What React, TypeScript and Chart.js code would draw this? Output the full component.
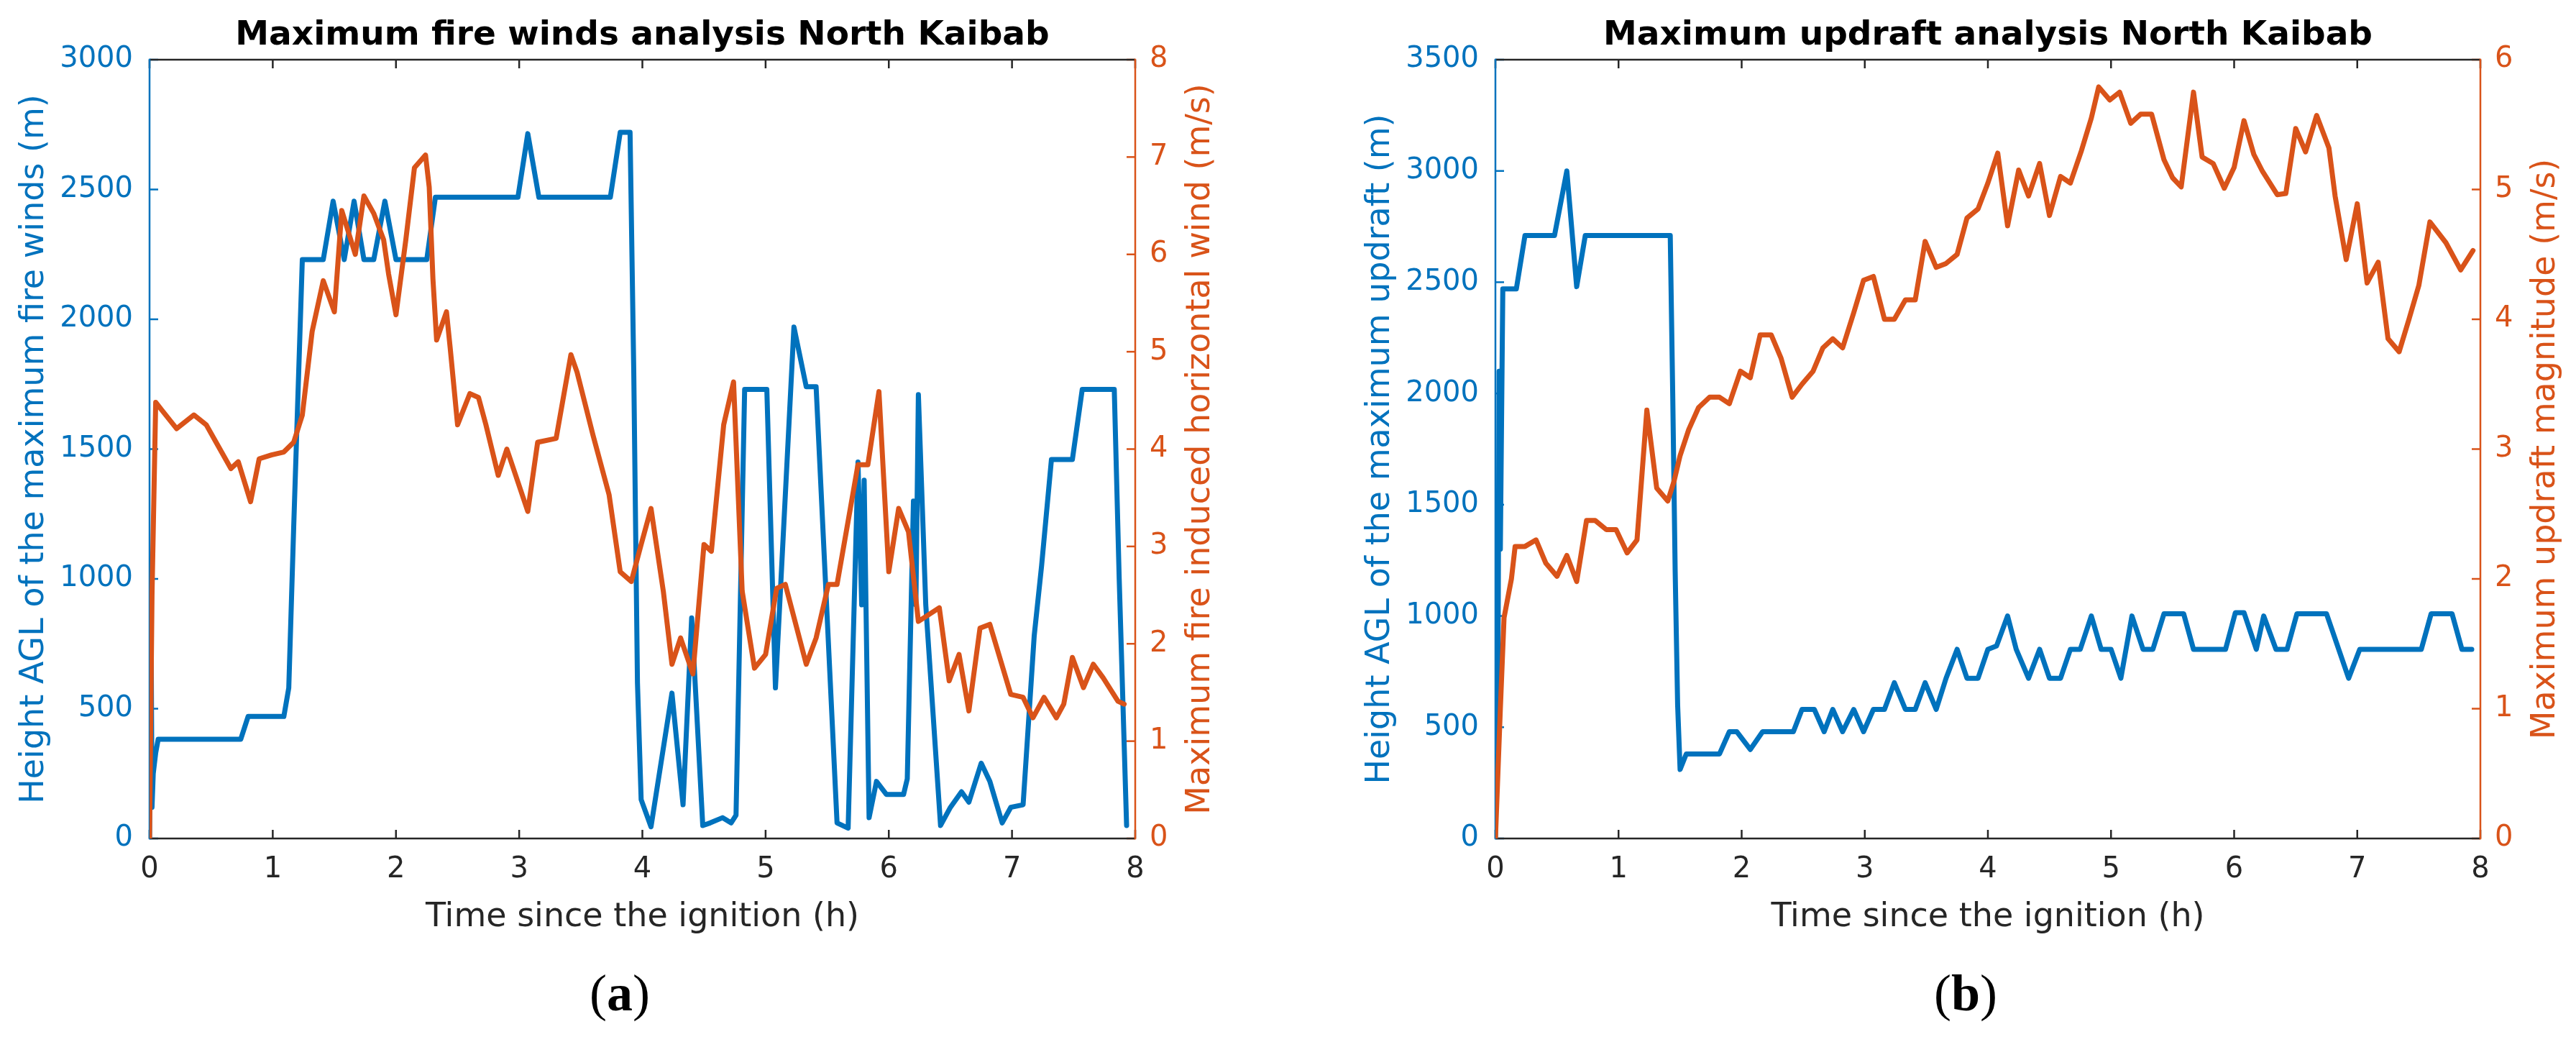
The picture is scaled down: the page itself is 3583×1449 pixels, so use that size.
import { useEffect, useRef } from 'react'
import { Chart, registerables } from 'chart.js'

Chart.register(...registerables)

const BLUE = '#0072BD'
const ORANGE = '#D95319'
const INK = '#262626'
const FONT = "'DejaVu Sans', sans-serif"

// tick values shared by both panels
const HOUR_TICKS = [0, 1, 2, 3, 4, 5, 6, 7, 8]
const WIND_HEIGHT_TICKS = [0, 500, 1000, 1500, 2000, 2500, 3000]
const WIND_SPEED_TICKS = [0, 1, 2, 3, 4, 5, 6, 7, 8]
const UPDRAFT_HEIGHT_TICKS = [0, 500, 1000, 1500, 2000, 2500, 3000, 3500]
const UPDRAFT_SPEED_TICKS = [0, 1, 2, 3, 4, 5, 6]

// (a) height AGL of the maximum fire winds (m)
const windHeightT = [0, 0.01, 0.02, 0.03, 0.05, 0.07, 0.74, 0.8, 1.09, 1.13, 1.17, 1.24, 1.41, 1.49, 1.58, 1.66, 1.74, 1.82, 1.91, 2.0, 2.25, 2.32, 2.99, 3.07, 3.16, 3.74, 3.82, 3.9, 3.93, 3.96, 3.99, 4.07, 4.24, 4.33, 4.4, 4.49, 4.55, 4.65, 4.72, 4.76, 4.83, 5.01, 5.08, 5.23, 5.33, 5.41, 5.58, 5.67, 5.75, 5.78, 5.8, 5.84, 5.9, 5.98, 6.12, 6.15, 6.2, 6.22, 6.24, 6.3, 6.42, 6.5, 6.59, 6.65, 6.75, 6.82, 6.92, 6.99, 7.09, 7.18, 7.24, 7.32, 7.49, 7.57, 7.83, 7.87, 7.93]
const windHeightM = [0, 1070, 120, 250, 330, 382, 382, 470, 470, 580, 1200, 2230, 2230, 2455, 2230, 2455, 2230, 2230, 2455, 2230, 2230, 2470, 2470, 2715, 2470, 2470, 2720, 2720, 1800, 600, 150, 45, 560, 130, 850, 50, 60, 80, 60, 90, 1730, 1730, 580, 1970, 1740, 1740, 60, 40, 1450, 900, 1380, 80, 220, 170, 170, 230, 1300, 900, 1710, 900, 50, 120, 180, 140, 290, 220, 60, 120, 130, 780, 1050, 1460, 1460, 1730, 1730, 1000, 50]

// (a) maximum fire induced horizontal wind (m/s)
const windSpeedT = [0, 0.02, 0.05, 0.1, 0.22, 0.36, 0.46, 0.54, 0.66, 0.72, 0.82, 0.89, 0.99, 1.09, 1.17, 1.24, 1.32, 1.41, 1.5, 1.56, 1.67, 1.74, 1.82, 1.9, 1.94, 2.0, 2.08, 2.15, 2.24, 2.27, 2.3, 2.33, 2.41, 2.44, 2.5, 2.6, 2.67, 2.73, 2.83, 2.9, 3.07, 3.15, 3.3, 3.42, 3.47, 3.6, 3.73, 3.82, 3.91, 3.99, 4.07, 4.17, 4.24, 4.31, 4.41, 4.5, 4.56, 4.66, 4.74, 4.81, 4.91, 5.0, 5.09, 5.16, 5.33, 5.41, 5.51, 5.58, 5.75, 5.83, 5.92, 6.0, 6.08, 6.16, 6.24, 6.41, 6.49, 6.57, 6.65, 6.74, 6.82, 6.99, 7.09, 7.17, 7.26, 7.36, 7.42, 7.49, 7.58, 7.66, 7.74, 7.86, 7.91]
const windSpeedMs = [0, 2.5, 4.48, 4.4, 4.21, 4.35, 4.25, 4.07, 3.8, 3.87, 3.46, 3.9, 3.94, 3.97, 4.07, 4.35, 5.21, 5.73, 5.41, 6.45, 6.0, 6.6, 6.42, 6.15, 5.8, 5.38, 6.15, 6.89, 7.02, 6.69, 5.75, 5.12, 5.41, 5.04, 4.25, 4.57, 4.53, 4.25, 3.73, 4.0, 3.36, 4.07, 4.11, 4.97, 4.79, 4.14, 3.53, 2.74, 2.64, 3.02, 3.39, 2.54, 1.79, 2.06, 1.69, 3.02, 2.95, 4.25, 4.69, 2.54, 1.75, 1.89, 2.57, 2.61, 1.79, 2.06, 2.61, 2.61, 3.84, 3.84, 4.59, 2.74, 3.39, 3.15, 2.23, 2.37, 1.62, 1.89, 1.31, 2.16, 2.2, 1.48, 1.45, 1.24, 1.45, 1.24, 1.38, 1.86, 1.55, 1.79, 1.65, 1.41, 1.38]

// (b) height AGL of the maximum updraft (m)
const updraftHeightT = [0, 0.01, 0.02, 0.03, 0.04, 0.06, 0.17, 0.24, 0.48, 0.58, 0.66, 0.73, 1.42, 1.44, 1.46, 1.48, 1.5, 1.55, 1.82, 1.9, 1.96, 2.07, 2.17, 2.42, 2.49, 2.59, 2.67, 2.74, 2.82, 2.91, 2.99, 3.07, 3.16, 3.24, 3.33, 3.41, 3.49, 3.58, 3.66, 3.75, 3.83, 3.92, 4.0, 4.07, 4.16, 4.23, 4.33, 4.42, 4.5, 4.59, 4.67, 4.75, 4.84, 4.92, 5.0, 5.08, 5.17, 5.26, 5.34, 5.43, 5.59, 5.67, 5.93, 6.01, 6.08, 6.18, 6.24, 6.34, 6.43, 6.51, 6.75, 6.93, 7.02, 7.52, 7.6, 7.77, 7.85, 7.93]
const updraftHeightM = [0, 1500, 600, 2100, 1300, 2470, 2470, 2710, 2710, 3000, 2480, 2710, 2710, 2000, 1200, 600, 310, 380, 380, 480, 480, 400, 480, 480, 580, 580, 480, 580, 480, 580, 480, 580, 580, 700, 580, 580, 700, 580, 720, 850, 720, 720, 850, 865, 1000, 850, 720, 850, 720, 720, 850, 850, 1000, 850, 850, 720, 1000, 850, 850, 1010, 1010, 850, 850, 1015, 1015, 850, 1000, 850, 850, 1010, 1010, 720, 850, 850, 1010, 1010, 850, 850]

// (b) maximum updraft magnitude (m/s)
const updraftSpeedT = [0, 0.02, 0.04, 0.07, 0.13, 0.16, 0.24, 0.33, 0.41, 0.5, 0.58, 0.66, 0.74, 0.81, 0.9, 0.98, 1.07, 1.15, 1.23, 1.31, 1.4, 1.45, 1.5, 1.57, 1.65, 1.74, 1.82, 1.9, 1.99, 2.07, 2.15, 2.24, 2.32, 2.41, 2.49, 2.58, 2.66, 2.74, 2.82, 2.91, 2.99, 3.07, 3.16, 3.24, 3.33, 3.41, 3.49, 3.58, 3.66, 3.75, 3.83, 3.92, 4.0, 4.08, 4.16, 4.25, 4.33, 4.42, 4.5, 4.59, 4.67, 4.76, 4.84, 4.9, 4.99, 5.07, 5.16, 5.24, 5.33, 5.43, 5.5, 5.57, 5.67, 5.74, 5.83, 5.92, 6.0, 6.08, 6.16, 6.23, 6.35, 6.42, 6.5, 6.58, 6.67, 6.77, 6.82, 6.91, 7.0, 7.08, 7.17, 7.25, 7.34, 7.42, 7.5, 7.59, 7.72, 7.84, 7.94]
const updraftSpeedMs = [0, 0.5, 1.0, 1.7, 2.0, 2.25, 2.25, 2.3, 2.12, 2.02, 2.18, 1.98, 2.45, 2.45, 2.38, 2.38, 2.2, 2.3, 3.3, 2.7, 2.6, 2.75, 2.95, 3.15, 3.32, 3.4, 3.4, 3.35, 3.6, 3.55, 3.88, 3.88, 3.7, 3.4, 3.5, 3.6, 3.78, 3.85, 3.78, 4.05, 4.3, 4.33, 4.0, 4.0, 4.15, 4.15, 4.6, 4.4, 4.43, 4.5, 4.78, 4.85, 5.05, 5.28, 4.72, 5.15, 4.95, 5.2, 4.8, 5.1, 5.05, 5.3, 5.55, 5.79, 5.69, 5.75, 5.51, 5.58, 5.58, 5.23, 5.09, 5.02, 5.75, 5.25, 5.2, 5.01, 5.17, 5.53, 5.27, 5.14, 4.96, 4.97, 5.47, 5.29, 5.57, 5.32, 4.95, 4.46, 4.89, 4.28, 4.44, 3.85, 3.75, 4.0, 4.26, 4.75, 4.59, 4.38, 4.53]

const CANVAS_H = 1449
const PLOT_TOP = 83
const PLOT_BOTTOM = 1166
const TICK_LEN = 12
const AXIS_W = 2.5
const LINE_W = 7

const pairs = (t: number[], v: number[]) => t.map((x, i) => ({ x, y: v[i] }))

// MATLAB-like box: inward ticks, coloured y axes, titles read bottom-to-top
const matlabAxes = {
  id: 'matlabAxes',
  beforeDatasetsDraw(chart: any) {
    const { ctx, chartArea: a, scales } = chart
    const seg = (x1: number, y1: number, x2: number, y2: number, c: string) => {
      ctx.strokeStyle = c
      ctx.beginPath()
      ctx.moveTo(x1, y1)
      ctx.lineTo(x2, y2)
      ctx.stroke()
    }
    ctx.save()
    ctx.lineWidth = AXIS_W
    for (const t of scales.x.ticks) {
      const px = scales.x.getPixelForValue(t.value)
      seg(px, a.bottom, px, a.bottom - TICK_LEN, INK)
      seg(px, a.top, px, a.top + TICK_LEN, INK)
    }
    for (const t of scales.yL.ticks) {
      const py = scales.yL.getPixelForValue(t.value)
      seg(a.left, py, a.left + TICK_LEN, py, BLUE)
    }
    for (const t of scales.yR.ticks) {
      const py = scales.yR.getPixelForValue(t.value)
      seg(a.right, py, a.right - TICK_LEN, py, ORANGE)
    }
    seg(a.left, a.top, a.right, a.top, INK)
    seg(a.left, a.bottom, a.right, a.bottom, INK)
    ctx.lineCap = 'square'
    seg(a.left, a.top, a.left, a.bottom, BLUE)
    seg(a.right, a.top, a.right, a.bottom, ORANGE)
    ctx.restore()
  },
  afterDraw(chart: any, _args: any, o: any) {
    const { ctx, chartArea: a } = chart
    const cx = (a.left + a.right) / 2
    const cy = (a.top + a.bottom) / 2
    ctx.save()
    ctx.textAlign = 'center'
    ctx.textBaseline = 'alphabetic'
    ctx.fillStyle = '#000'
    ctx.font = `bold 47px ${FONT}`
    ctx.fillText(o.title, cx, a.top - 21)
    ctx.font = `46px ${FONT}`
    ctx.fillStyle = INK
    ctx.fillText(o.xTitle, cx, a.bottom + 122)
    const vertical = (text: string, x: number, color: string) => {
      ctx.save()
      ctx.translate(x, cy)
      ctx.rotate(-Math.PI / 2)
      ctx.fillStyle = color
      ctx.fillText(text, 0, 0)
      ctx.restore()
    }
    vertical(o.leftTitle, a.left - 148, BLUE)
    vertical(o.rightTitle, a.right + 103, ORANGE)
    ctx.restore()
  },
}

type Panel = {
  width: number
  plotLeft: number
  plotRight: number
  title: string
  leftTitle: string
  rightTitle: string
  leftTicks: number[]
  rightTicks: number[]
  left: { x: number; y: number }[]
  right: { x: number; y: number }[]
}

const tickSetter = (values: number[]) => (s: any) => {
  s.ticks = values.map((value) => ({ value }))
}
const plain = (v: any) => String(v)

function makeConfig(p: Panel): any {
  const tickFont = { family: FONT, size: 40 }
  return {
    type: 'line',
    data: {
      datasets: [
        { data: p.right, yAxisID: 'yR', borderColor: ORANGE, borderWidth: LINE_W, order: 0 },
        { data: p.left, yAxisID: 'yL', borderColor: BLUE, borderWidth: LINE_W, order: 1 },
      ],
    },
    options: {
      animation: false,
      responsive: false,
      devicePixelRatio: 1,
      layout: { padding: { top: PLOT_TOP, left: 0, right: 0, bottom: 0 } },
      elements: {
        point: { radius: 0 },
        line: { tension: 0, borderJoinStyle: 'round', borderCapStyle: 'round' },
      },
      plugins: {
        legend: { display: false },
        tooltip: { enabled: false },
        matlabAxes: {
          title: p.title,
          xTitle: 'Time since the ignition (h)',
          leftTitle: p.leftTitle,
          rightTitle: p.rightTitle,
        },
      },
      scales: {
        x: {
          type: 'linear',
          min: 0,
          max: 8,
          grid: { display: false, drawTicks: false },
          border: { display: false },
          ticks: { font: tickFont, color: INK, padding: 20, maxRotation: 0, callback: plain },
          afterBuildTicks: tickSetter(HOUR_TICKS),
          afterFit: (s: any) => { s.height = CANVAS_H - PLOT_BOTTOM },
        },
        yL: {
          type: 'linear',
          position: 'left',
          min: 0,
          max: p.leftTicks[p.leftTicks.length - 1],
          grid: { display: false, drawTicks: false },
          border: { display: false },
          ticks: { font: tickFont, color: BLUE, padding: 23, callback: plain },
          afterBuildTicks: tickSetter(p.leftTicks),
          afterFit: (s: any) => { s.width = p.plotLeft },
        },
        yR: {
          type: 'linear',
          position: 'right',
          min: 0,
          max: p.rightTicks[p.rightTicks.length - 1],
          grid: { display: false, drawTicks: false },
          border: { display: false },
          ticks: { font: tickFont, color: ORANGE, padding: 20, callback: plain },
          afterBuildTicks: tickSetter(p.rightTicks),
          afterFit: (s: any) => { s.width = p.width - p.plotRight },
        },
      },
    },
    plugins: [matlabAxes],
  }
}

function DualAxisChart({ panel, x }: { panel: Panel; x: number }) {
  const canvasRef = useRef<HTMLCanvasElement>(null)

  useEffect(() => {
    if (!canvasRef.current) return
    const chart = new Chart(canvasRef.current, makeConfig(panel))
    return () => chart.destroy()
  }, [panel])

  return (
    <canvas
      ref={canvasRef}
      width={panel.width}
      height={CANVAS_H}
      style={{ position: 'absolute', left: x, top: 0, width: panel.width, height: CANVAS_H }}
    />
  )
}

const fireWinds: Panel = {
  width: 1790,
  plotLeft: 208,
  plotRight: 1579,
  title: 'Maximum fire winds analysis North Kaibab',
  leftTitle: 'Height AGL of the maximum fire winds (m)',
  rightTitle: 'Maximum fire induced horizontal wind (m/s)',
  leftTicks: WIND_HEIGHT_TICKS,
  rightTicks: WIND_SPEED_TICKS,
  left: pairs(windHeightT, windHeightM),
  right: pairs(windSpeedT, windSpeedMs),
}

const updraft: Panel = {
  width: 1793,
  plotLeft: 290,
  plotRight: 1660,
  title: 'Maximum updraft analysis North Kaibab',
  leftTitle: 'Height AGL of the maximum updraft (m)',
  rightTitle: 'Maximum updraft magnitude (m/s)',
  leftTicks: UPDRAFT_HEIGHT_TICKS,
  rightTicks: UPDRAFT_SPEED_TICKS,
  left: pairs(updraftHeightT, updraftHeightM),
  right: pairs(updraftSpeedT, updraftSpeedMs),
}

const captionStyle = (center: number): React.CSSProperties => ({
  position: 'absolute',
  left: center - 100,
  width: 200,
  top: 1345,
  textAlign: 'center',
  fontFamily: "'Liberation Serif', serif",
  fontSize: 72,
  lineHeight: '72px',
  color: '#000',
})

export default function App() {
  return (
    <div style={{ position: 'fixed', left: 0, top: 0, width: 3583, height: CANVAS_H, background: '#fff', overflow: 'hidden' }}>
      <DualAxisChart panel={fireWinds} x={0} />
      <DualAxisChart panel={updraft} x={1790} />
      <div style={captionStyle(862)}>(<b>a</b>)</div>
      <div style={captionStyle(2734)}>(<b>b</b>)</div>
    </div>
  )
}
